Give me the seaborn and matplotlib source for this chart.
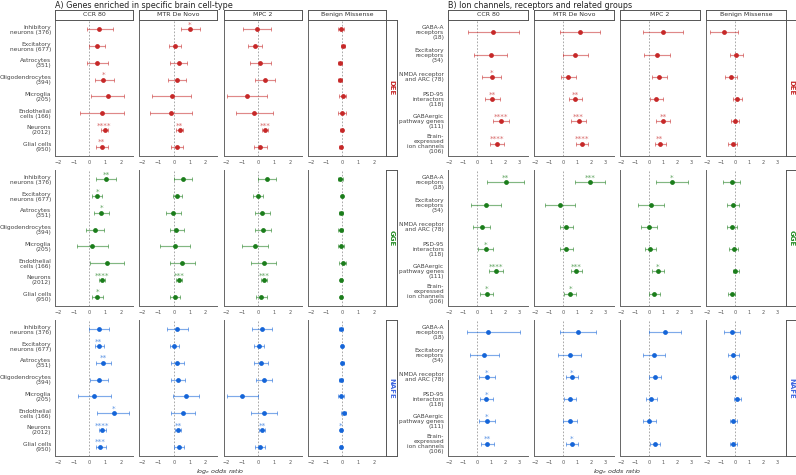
import numpy as np
import matplotlib
matplotlib.use("Agg")
import matplotlib.pyplot as plt
import seaborn as sns

# -----------------------------
# Labels
# -----------------------------
columns = ["CCR 80", "MTR De Novo", "MPC 2", "Benign Missense"]
phenotypes = ["DEE", "GGE", "NAFE"]

cell_labels = ["Inhibitory\nneurons (376)", "Excitatory\nneurons (677)", "Astrocytes\n(351)",
               "Oligodendrocytes\n(394)", "Microglia\n(205)", "Endothelial\ncells (166)",
               "Neurons\n(2012)", "Glial cells\n(950)"]
ion_labels = ["GABA-A\nreceptors\n(18)", "Excitatory\nreceptors\n(34)", "NMDA receptor\nand ARC (78)",
              "PSD-95\ninteractors\n(118)", "GABAergic\npathway genes\n(111)",
              "Brain-\nexpressed\nion channels\n(106)"]

# -----------------------------
# A) cell types  (one list per column: CCR, MTR, MPC, Benign)
# -----------------------------
cell_dee_est = [[0.63, 0.48, 0.48, 0.88, 1.14, 0.82, 0.95, 0.78],
                [1.03, 0.06, 0.32, 0.23, -0.13, -0.17, 0.38, 0.21],
                [-0.06, -0.17, 0.15, 0.44, -0.72, -0.25, 0.44, 0.15],
                [-0.06, 0.04, -0.15, -0.15, 0.02, -0.04, -0.04, -0.10]]
cell_dee_lo = [[-0.17, 0.0, -0.17, 0.32, 0.10, -0.57, 0.74, 0.38],
               [0.44, -0.29, -0.23, -0.36, -1.37, -1.49, 0.17, -0.17],
               [-0.93, -0.63, -0.51, -0.19, -1.96, -1.43, 0.23, -0.25],
               [-0.25, -0.06, -0.29, -0.30, -0.21, -0.28, -0.13, -0.21]]
cell_dee_hi = [[1.47, 0.95, 1.16, 1.52, 2.19, 2.19, 1.16, 1.20],
               [1.64, 0.48, 0.86, 0.78, 1.12, 1.16, 0.59, 0.61],
               [0.84, 0.27, 0.84, 1.09, 0.59, 0.95, 0.65, 0.57],
               [0.13, 0.15, -0.01, 0.0, 0.25, 0.21, 0.04, 0.0]]
cell_dee_sig = [["", "", "", "*", "", "", "****", "**"],
                ["*", "", "", "", "", "", "**", ""],
                ["", "", "", "", "", "", "***", ""],
                ["", "", "", "", "", "", "", ""]]

cell_gge_est = [[1.05, 0.50, 0.74, 0.32, 0.17, 1.09, 0.80, 0.50],
                [0.57, 0.21, -0.02, 0.17, 0.06, 0.55, 0.34, 0.08],
                [0.55, 0.0, 0.25, 0.32, -0.17, 0.36, 0.38, 0.21],
                [-0.13, 0.0, -0.10, -0.10, -0.08, 0.02, -0.10, -0.10]]
cell_gge_lo = [[0.44, 0.19, 0.27, -0.21, -0.82, 0.02, 0.59, 0.15],
               [0.02, -0.06, -0.50, -0.25, -0.86, -0.23, 0.13, -0.23],
               [0.0, -0.32, -0.19, -0.19, -1.01, -0.46, 0.17, -0.11],
               [-0.27, -0.05, -0.23, -0.25, -0.29, -0.19, -0.16, -0.16]]
cell_gge_hi = [[1.70, 0.82, 1.26, 0.90, 1.18, 2.17, 1.01, 0.86],
               [1.16, 0.53, 0.48, 0.65, 1.05, 1.35, 0.55, 0.40],
               [1.14, 0.29, 0.76, 0.82, 0.65, 1.14, 0.59, 0.55],
               [0.04, 0.05, 0.02, 0.04, 0.13, 0.23, -0.04, -0.04]]
cell_gge_sig = [["**", "*", "*", "", "", "", "****", "*"],
                ["", "", "", "", "", "", "***", ""],
                ["", "", "", "", "", "", "***", ""],
                ["", "", "", "", "", "", "", ""]]

cell_nafe_est = [[0.61, 0.59, 0.88, 0.59, 0.29, 1.52, 0.82, 0.69],
                 [0.21, 0.04, 0.23, 0.27, 0.76, 0.59, 0.27, 0.32],
                 [0.27, 0.06, 0.21, 0.38, -0.99, 0.38, 0.27, 0.15],
                 [-0.08, -0.04, -0.02, -0.10, -0.08, 0.08, -0.10, -0.08]]
cell_nafe_lo = [[-0.02, 0.32, 0.42, 0.02, -0.72, 0.50, 0.61, 0.38],
                [-0.44, -0.25, -0.19, -0.19, -0.08, -0.19, 0.08, 0.0],
                [-0.38, -0.23, -0.25, -0.11, -1.96, -0.44, 0.08, -0.17],
                [-0.22, -0.10, -0.12, -0.22, -0.29, -0.08, -0.17, -0.14]]
cell_nafe_hi = [[1.26, 0.90, 1.33, 1.14, 1.33, 2.53, 1.03, 1.03],
                [0.88, 0.36, 0.65, 0.74, 1.60, 1.37, 0.48, 0.63],
                [0.88, 0.38, 0.65, 0.88, 0.0, 1.20, 0.46, 0.46],
                [0.06, 0.02, 0.08, 0.02, 0.13, 0.25, -0.03, -0.02]]
cell_nafe_sig = [["", "**", "**", "", "", "*", "****", "***"],
                 ["", "", "", "", "", "", "**", ""],
                 ["", "", "", "", "", "", "**", ""],
                 ["", "", "", "", "", "", "*", ""]]

# -----------------------------
# B) ion channels / receptors
# -----------------------------
ion_dee_est = [[1.17, 0.98, 1.05, 1.07, 1.69, 1.43],
               [1.19, 0.88, 0.38, 0.86, 1.12, 1.33],
               [1.00, 0.55, 0.69, 0.52, 1.00, 0.76],
               [-0.79, 0.10, -0.31, 0.17, 0.0, -0.17]]
ion_dee_lo = [[-0.64, -0.19, 0.36, 0.55, 1.17, 0.93],
              [-0.21, 0.02, -0.14, 0.40, 0.60, 0.95],
              [-0.45, -0.36, 0.19, 0.07, 0.48, 0.43],
              [-1.79, -0.38, -0.69, -0.17, -0.26, -0.48]]
ion_dee_hi = [[2.95, 2.14, 1.71, 1.62, 2.29, 1.95],
              [2.62, 1.81, 0.95, 1.33, 1.62, 1.76],
              [2.43, 1.50, 1.26, 1.00, 1.50, 1.19],
              [0.24, 0.57, 0.12, 0.50, 0.29, 0.17]]
ion_dee_sig = [["", "", "*", "**", "****", "****"],
               ["", "", "", "**", "***", "****"],
               ["", "", "", "", "**", "**"],
               ["", "", "", "", "", ""]]

ion_gge_est = [[2.05, 0.62, 0.36, 0.62, 1.36, 0.69],
               [1.93, -0.21, 0.24, 0.24, 0.95, 0.52],
               [1.64, 0.14, 0.0, 0.10, 0.62, 0.38],
               [-0.21, -0.12, -0.21, -0.10, 0.02, -0.24]]
ion_gge_lo = [[0.74, -0.45, -0.29, 0.07, 0.86, 0.24],
              [0.88, -1.29, -0.24, -0.24, 0.57, 0.10],
              [0.52, -0.76, -0.55, -0.31, 0.19, 0.02],
              [-0.83, -0.55, -0.57, -0.40, -0.17, -0.48]]
ion_gge_hi = [[3.36, 1.71, 0.95, 1.17, 1.88, 1.17],
              [3.00, 0.86, 0.71, 0.71, 1.38, 0.93],
              [2.76, 1.05, 0.55, 0.50, 1.07, 0.76],
              [0.38, 0.31, 0.12, 0.21, 0.26, 0.02]]
ion_gge_sig = [["**", "", "", "*", "****", "*"],
               ["***", "", "", "", "***", "*"],
               ["*", "", "", "", "*", ""],
               ["", "", "", "", "", ""]]

ion_nafe_est = [[0.81, 0.52, 0.71, 0.67, 0.69, 0.74],
                [1.05, 0.50, 0.62, 0.48, 0.48, 0.62],
                [1.14, 0.33, 0.43, 0.17, 0.02, 0.43],
                [-0.19, -0.12, -0.10, 0.17, -0.12, -0.12]]
ion_nafe_lo = [[-0.71, -0.50, 0.14, 0.21, 0.12, 0.29],
               [-0.24, -0.38, 0.21, 0.05, -0.02, 0.24],
               [0.0, -0.43, 0.0, -0.21, -0.43, 0.05],
               [-0.76, -0.50, -0.38, -0.05, -0.36, -0.36]]
ion_nafe_hi = [[3.02, 1.57, 1.29, 1.17, 1.29, 1.24],
               [2.33, 1.31, 1.05, 0.90, 0.98, 1.05],
               [2.29, 1.12, 0.88, 0.60, 0.52, 0.79],
               [0.38, 0.29, 0.19, 0.45, 0.17, 0.17]]
ion_nafe_sig = [["", "", "*", "*", "*", "**"],
                ["", "", "*", "", "", "*"],
                ["", "", "", "", "", ""],
                ["", "", "", "", "", ""]]

pheno_colors = {"DEE": "#c62828", "GGE": "#1b7d1b", "NAFE": "#1565d8"}
strip_colors = {"DEE": "#c62828", "GGE": "#228b22", "NAFE": "#4169e1"}

# -----------------------------
# Style
# -----------------------------
sns.set_style("white")
plt.rcParams["font.family"] = ["DejaVu Sans"]

W, H = 796, 475
fig = plt.figure(figsize=(W / 100, H / 100), dpi=100)


def px_axes(x, y, w, h):
    return fig.add_axes([x / W, 1 - (y + h) / H, w / W, h / H])


row_tops = [20, 170, 320]
row_h = 136

groups = [
    dict(labels=cell_labels, x0=55, pitch=84.3, w=78, ticks=[-2, -1, 0, 1, 2],
         title="A) Genes enriched in specific brain cell-type",
         data={"DEE": (cell_dee_est, cell_dee_lo, cell_dee_hi, cell_dee_sig),
               "GGE": (cell_gge_est, cell_gge_lo, cell_gge_hi, cell_gge_sig),
               "NAFE": (cell_nafe_est, cell_nafe_lo, cell_nafe_hi, cell_nafe_sig)}),
    dict(labels=ion_labels, x0=448, pitch=86, w=80, ticks=[-2, -1, 0, 1, 2, 3],
         title="B) Ion channels, receptors and related groups",
         data={"DEE": (ion_dee_est, ion_dee_lo, ion_dee_hi, ion_dee_sig),
               "GGE": (ion_gge_est, ion_gge_lo, ion_gge_hi, ion_gge_sig),
               "NAFE": (ion_nafe_est, ion_nafe_lo, ion_nafe_hi, ion_nafe_sig)}),
]

for g in groups:
    n = len(g["labels"])
    ypos = np.arange(n)
    # shared x range: data range with 5% expansion
    all_lo = min(min(min(c) for c in g["data"][p][1]) for p in phenotypes)
    all_hi = max(max(max(c) for c in g["data"][p][2]) for p in phenotypes)
    pad = 0.05 * (all_hi - all_lo)
    xlim = (all_lo - pad, all_hi + pad)

    for r, pheno in enumerate(phenotypes):
        est, lo, hi, sig = g["data"][pheno]
        col = pheno_colors[pheno]
        for c in range(4):
            ax = px_axes(g["x0"] + c * g["pitch"], row_tops[r], g["w"], row_h)
            e = np.array(est[c])
            l = np.array(lo[c])
            h = np.array(hi[c])
            ax.axvline(0, color="#9a9a9a", lw=0.6, ls=(0, (2, 2)), zorder=0)
            ax.errorbar(e, ypos, xerr=[e - l, h - e], fmt="none", ecolor=col,
                        alpha=0.55, elinewidth=0.85, capsize=1.5, capthick=0.7)
            sns.scatterplot(x=e, y=ypos, color=col, s=12, marker="o",
                            linewidth=0, ax=ax, legend=False, zorder=3)
            for yi, xi, s in zip(ypos, e, sig[c]):
                if s:
                    ax.annotate(s, (xi, yi), xytext=(0, 3.3), textcoords="offset points",
                                color=col, alpha=0.7, fontsize=5.4,
                                ha="center", va="center")
            ax.set_xlim(*xlim)
            ax.set_ylim(n - 1 + 0.55, -0.55)
            ax.set_yticks(ypos)
            ax.set_xticks(g["ticks"])
            ax.tick_params(axis="both", length=1.8, width=0.5, color="#555555",
                           pad=0.8, labelsize=3.5, labelcolor="#555555")
            if c == 0:
                ax.set_yticklabels(g["labels"], fontsize=4.2, color="#444444",
                                   linespacing=1.0)
                ax.tick_params(axis="y", pad=1.0)
            else:
                ax.set_yticklabels([])
            ax.set_xlabel("")
            ax.set_ylabel("")
            for side in ["top", "right"]:
                ax.spines[side].set_visible(False)
            for side in ["left", "bottom"]:
                ax.spines[side].set_color("#666666")
                ax.spines[side].set_linewidth(0.7)

            # column strips on first row
            if r == 0:
                sax = px_axes(g["x0"] + c * g["pitch"], 10, g["w"], 9.5)
                sax.set_xticks([])
                sax.set_yticks([])
                sax.set_facecolor("white")
                for sp in sax.spines.values():
                    sp.set_color("#555555")
                    sp.set_linewidth(0.7)
                sax.text(0.5, 0.5, columns[c], ha="center", va="center",
                         fontsize=4.5, color="#333333", transform=sax.transAxes)

        # row strip on right
        rx = g["x0"] + 3 * g["pitch"] + g["w"]
        rax = px_axes(rx, row_tops[r], 11, row_h)
        rax.set_xticks([])
        rax.set_yticks([])
        for sp in rax.spines.values():
            sp.set_color("#555555")
            sp.set_linewidth(0.7)
        rax.text(0.5, 0.5, pheno, ha="center", va="center", rotation=-90,
                 fontsize=5, fontweight="bold", color=strip_colors[pheno],
                 transform=rax.transAxes)

    # group title and x label
    fig.text(g["x0"] / W, 1 - 5 / H, g["title"], fontsize=5.8, color="#222222",
             ha="left", va="center")
    span_end = g["x0"] + 3 * g["pitch"] + g["w"]
    fig.text((g["x0"] + span_end) / 2 / W, 1 - 471 / H, r"log$_e$ odds ratio",
             fontsize=4.6, style="italic", color="#333333", ha="center", va="center")

fig.savefig("out.png", dpi=100, facecolor="white")
plt.close()
